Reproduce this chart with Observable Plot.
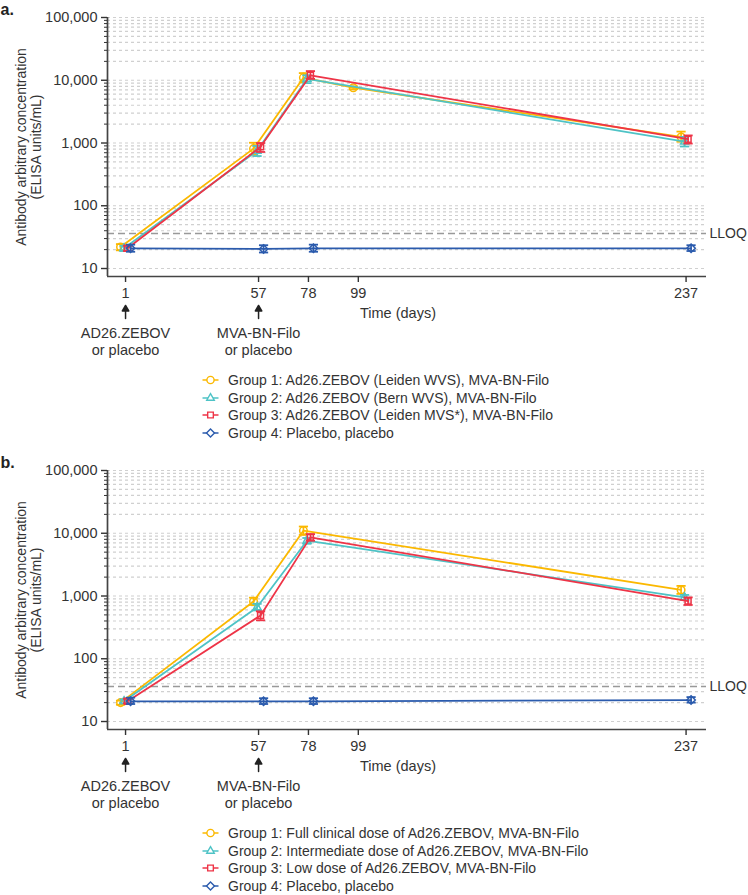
<!DOCTYPE html>
<html><head><meta charset="utf-8">
<script src="https://cdn.jsdelivr.net/npm/d3@7"></script>
<script src="https://cdn.jsdelivr.net/npm/@observablehq/plot@0.6"></script>
<style>
body{margin:0;background:#fff;font-family:"Liberation Sans",Arial,sans-serif;color:#333;}
.panel{position:relative;width:748px;height:453px;overflow:visible}
.panel > svg.plotsvg{position:absolute;left:0;top:0}
.legend{position:absolute;left:202px;top:371px;font-size:14px;color:#333}
.row{display:flex;align-items:center;height:17.8px;white-space:nowrap}
.row svg{margin-right:8px;flex:none}
</style></head><body><div id="root"></div>
<script>
// ---- shared categories / ticks ----
const days = [1, 57, 78, 99, 237];
const doseDays = [1, 57];
const doseLabels = ["AD26.ZEBOV\nor placebo", "MVA-BN-Filo\nor placebo"];
const yMajor = [10, 100, 1000, 10000, 100000];
const yMinorMult = [2, 3, 4, 5, 6, 7, 8, 9];
const LLOQ = 36.11;
const groupColors = ["#FBB800", "#4EC3C6", "#EE3447", "#2B5BAD"];
const groupSymbols = ["circle", "triangle2", "square2", "diamond2"];
const legendA = [
  "Group 1: Ad26.ZEBOV (Leiden WVS), MVA-BN-Filo",
  "Group 2: Ad26.ZEBOV (Bern WVS), MVA-BN-Filo",
  "Group 3: Ad26.ZEBOV (Leiden MVS*), MVA-BN-Filo",
  "Group 4: Placebo, placebo"
];
const legendB = [
  "Group 1: Full clinical dose of Ad26.ZEBOV, MVA-BN-Filo",
  "Group 2: Intermediate dose of Ad26.ZEBOV, MVA-BN-Filo",
  "Group 3: Low dose of Ad26.ZEBOV, MVA-BN-Filo",
  "Group 4: Placebo, placebo"
];

// ---- panel a values (GMC, lower CI, upper CI) per day ----
const a1   = [22,   813,  11000, 7600, 1250];
const a1lo = [19.5, 650,  9300,  7200, 1050];
const a1hi = [24.5, 1010, 13000, 8000, 1520];
const a2   = [21,   750,  10500, null, 1050];
const a2lo = [19,   620,  9000,  null, 880];
const a2hi = [23,   900,  12000, null, 1250];
const a3   = [21,   870,  12000, null, 1150];
const a3lo = [19,   720,  10500, null, 980];
const a3hi = [23,   1000, 14000, null, 1320];
const a4   = [21,   20.5, 21,    null, 21];
const a4lo = [18.5, 18,   18.5,  null, 19];
const a4hi = [24,   23.5, 24,    null, 23.5];

// ---- panel b values ----
const b1   = [20,   820,  11000, null, 1250];
const b1lo = [18.5, 720,  9400,  null, 1080];
const b1hi = [21.5, 940,  12800, null, 1450];
const b2   = [21,   660,  7600,  null, 950];
const b2lo = [19.5, 590,  6800,  null, 870];
const b2hi = [22.5, 750,  8400,  null, 1040];
const b3   = [21,   490,  8600,  null, 830];
const b3lo = [19.5, 410,  7600,  null, 720];
const b3hi = [23,   570,  9700,  null, 950];
const b4   = [21,   21,   21,    null, 22];
const b4lo = [19,   19,   19,    null, 20];
const b4hi = [24,   23.5, 23.5,  null, 24.5];

// ---- drawing ----
const groupDx = [-5, -1.5, 2, 5];
const xDomain = [-6.6, 245.6];
const yDomain = [7.46, 100000];
const yMinor = yMajor.slice(0, -1).flatMap(m => yMinorMult.map(k => k * m));
const yAll = yMajor.concat(yMinor).sort((a, b) => a - b);
const FONT = '"Liberation Sans", Arial, sans-serif';

const capSymbol = {draw(ctx, size) { const r = Math.sqrt(size / Math.PI); ctx.moveTo(-r, 0); ctx.lineTo(r, 0); }};
const arrowShape = {draw(ctx, l) {
  ctx.moveTo(0, 0); ctx.lineTo(0, -l + 4);
  ctx.moveTo(-3.2, -l + 5.5); ctx.lineTo(0, -l); ctx.lineTo(3.2, -l + 5.5); ctx.closePath();
}};

function rows(m, lo, hi) {
  return days.map((d, i) => ({day: d, mean: m[i], lo: lo[i], hi: hi[i]})).filter(r => r.mean != null);
}

function panel(letter, series, legendLabels) {
  const marks = [
    Plot.gridY(yAll, {stroke: "#d0d0d0", strokeOpacity: 1, strokeDasharray: "3,3", strokeWidth: 1.2}),
    Plot.ruleY([LLOQ], {stroke: "#999", strokeDasharray: "7,4", strokeWidth: 1.4}),
    Plot.text([LLOQ], {y: d => d, text: () => "LLOQ", frameAnchor: "right", textAnchor: "start", dx: 3, fontSize: 14, fill: "#333"}),
    Plot.ruleX([xDomain[0]], {stroke: "#444", strokeWidth: 1.7}),
    Plot.ruleY([yDomain[0]], {stroke: "#444", strokeWidth: 1.7}),
    Plot.axisY(yMajor, {tickSize: 6, tickPadding: 4, tickFormat: d3.format(","), fontSize: 14.5, label: null, strokeWidth: 1.4}),
    Plot.axisY(yMinor, {tickSize: 3, tickFormat: null, label: null, strokeWidth: 1}),
    Plot.axisX(days, {tickSize: 6, tickPadding: 5, fontSize: 14.5, label: null, strokeWidth: 1.4}),
    Plot.text(["Antibody arbitrary concentration\n(ELISA units/mL)"], {frameAnchor: "left", dx: -79, rotate: -90, textAnchor: "middle", lineAnchor: "middle", fontSize: 14, lineHeight: 1.07, fill: "#333"}),
    Plot.text(["Time (days)"], {frameAnchor: "bottom", dy: 41, dx: -9, fontSize: 14.5, fill: "#333"}),
    Plot.vector(doseDays, {x: d => d, frameAnchor: "bottom", dy: 42, length: 13, rotate: 0, anchor: "start", shape: arrowShape, stroke: "#222", fill: "#222", strokeWidth: 1.5}),
    Plot.text(doseDays, {x: d => d, text: (d, i) => doseLabels[i], frameAnchor: "bottom", dy: 49, lineAnchor: "top", lineHeight: 1.2, fontSize: 14.5, fill: "#333"}),
    Plot.text([letter], {frameAnchor: "top-left", dx: -107, dy: -14, textAnchor: "start", fontWeight: "bold", fontSize: 16, fill: "#222"})
  ];
  series.forEach((s, g) => {
    const data = rows(s[0], s[1], s[2]);
    const c = groupColors[g], dx = groupDx[g];
    marks.push(
      Plot.line(data, {x: "day", y: "mean", stroke: c, strokeWidth: 1.8, dx}),
      Plot.ruleX(data, {x: "day", y1: "lo", y2: "hi", stroke: c, strokeWidth: 1.7, dx}),
      Plot.dot(data, {x: "day", y: "lo", symbol: capSymbol, r: 4.6, stroke: c, fill: "none", strokeWidth: 1.8, dx}),
      Plot.dot(data, {x: "day", y: "hi", symbol: capSymbol, r: 4.6, stroke: c, fill: "none", strokeWidth: 1.8, dx}),
      Plot.dot(data, {x: "day", y: "mean", symbol: groupSymbols[g], r: 3.8, stroke: c, fill: "none", strokeWidth: 1.5, dx})
    );
  });
  const svg = Plot.plot({
    width: 748, height: 362,
    marginTop: 17, marginBottom: 86, marginLeft: 107, marginRight: 42,
    x: {type: "linear", domain: xDomain},
    y: {type: "log", domain: yDomain},
    style: {fontFamily: FONT, fontSize: "14px", color: "#333", background: "transparent", overflow: "visible"},
    marks
  });
  svg.classList.add("plotsvg");
  const div = document.createElement("div");
  div.className = "panel";
  div.appendChild(svg);
  const leg = document.createElement("div");
  leg.className = "legend";
  legendLabels.forEach((lab, g) => {
    const row = document.createElement("div");
    row.className = "row";
    const sw = d3.create("svg").attr("width", 18).attr("height", 12);
    sw.append("line").attr("x1", 0.5).attr("x2", 16.5).attr("y1", 6).attr("y2", 6)
      .attr("stroke", groupColors[g]).attr("stroke-width", 1.5);
    const symMap = {circle: d3.symbolCircle, triangle2: d3.symbolTriangle2, square2: d3.symbolSquare2, diamond2: d3.symbolDiamond2};
    sw.append("path").attr("transform", "translate(8.5,6)")
      .attr("d", d3.symbol(symMap[groupSymbols[g]], 3.6 * 3.6 * Math.PI)())
      .attr("fill", "white").attr("stroke", groupColors[g]).attr("stroke-width", 1.4);
    row.appendChild(sw.node());
    const t = document.createElement("span");
    t.textContent = lab;
    row.appendChild(t);
    leg.appendChild(row);
  });
  div.appendChild(leg);
  document.getElementById("root").appendChild(div);
}

panel("a.", [[a1, a1lo, a1hi], [a2, a2lo, a2hi], [a3, a3lo, a3hi], [a4, a4lo, a4hi]], legendA);
panel("b.", [[b1, b1lo, b1hi], [b2, b2lo, b2hi], [b3, b3lo, b3hi], [b4, b4lo, b4hi]], legendB);
</script></body></html>
